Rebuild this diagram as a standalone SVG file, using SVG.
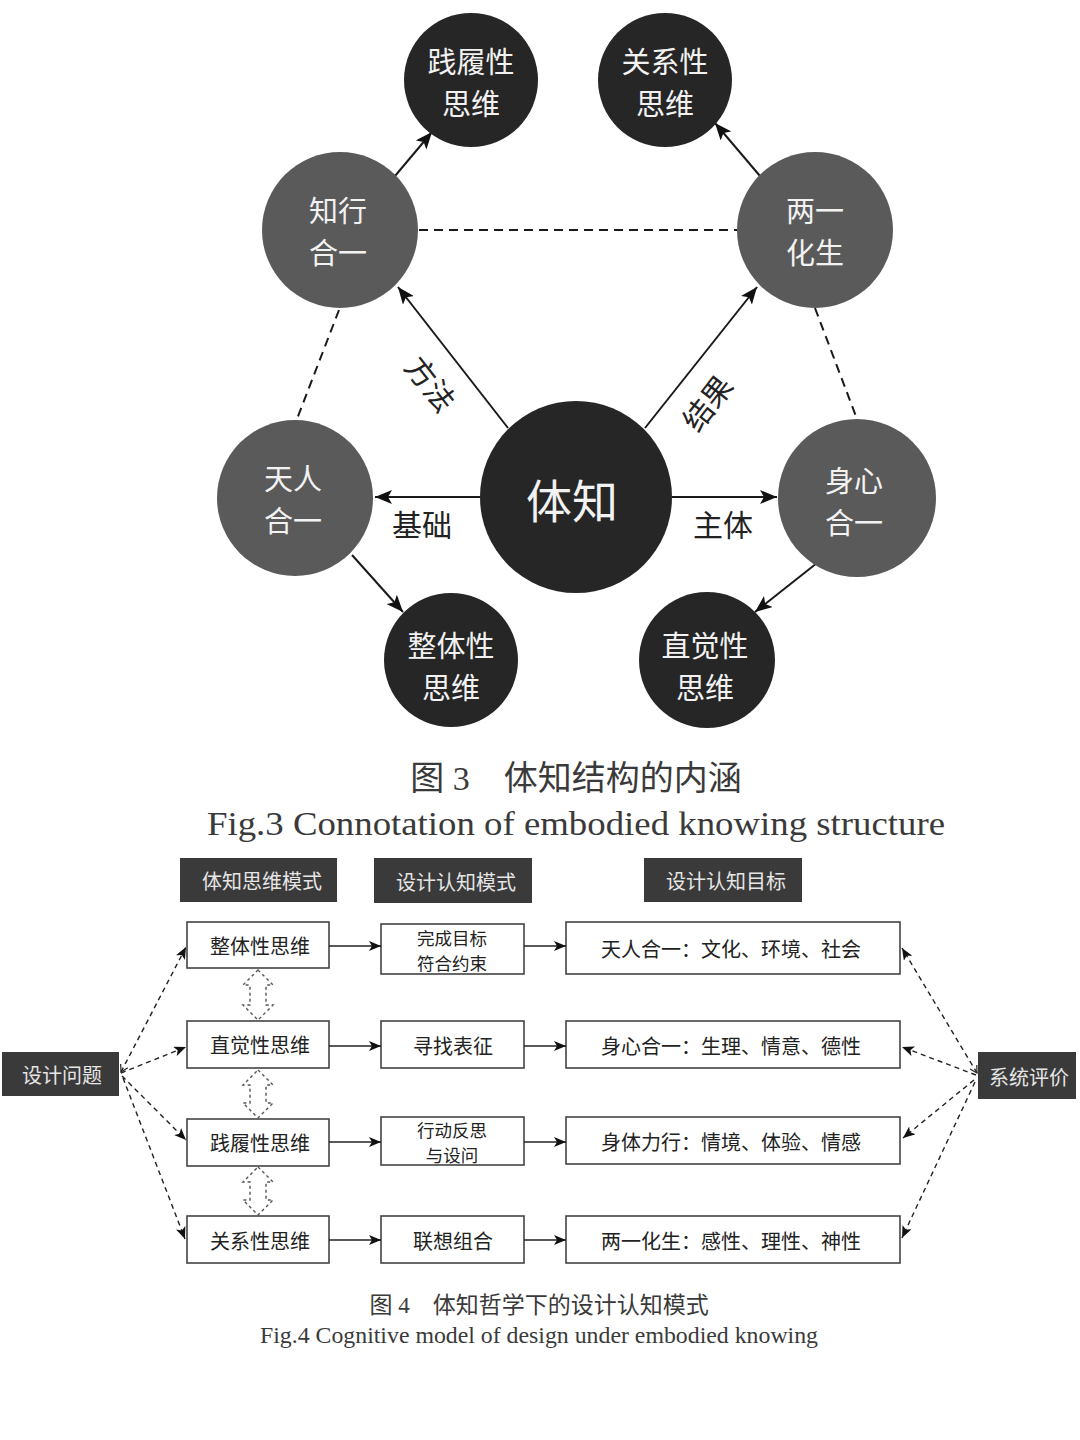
<svg xmlns="http://www.w3.org/2000/svg" width="1080" height="1440" viewBox="0 0 1080 1440">
<defs>
<style>
.dk{fill:#262626}
.gy{fill:#5a5a5a}
.ct{font-family:"Noto Sans CJK SC",sans-serif;fill:#f2f2f2;text-anchor:middle;dominant-baseline:central}
.lb{font-family:"Noto Sans CJK SC",sans-serif;fill:#222;text-anchor:middle;dominant-baseline:central;font-size:30px}
.ln{stroke:#1a1a1a;stroke-width:2;fill:none}
.dl{stroke:#1a1a1a;stroke-width:2;fill:none;stroke-dasharray:9 6}
.box{fill:#fff;stroke:#444;stroke-width:1.6}
.hd{fill:#3a3a3a}
.ht{font-family:"Noto Sans CJK SC",sans-serif;fill:#e6e6e6;text-anchor:middle;dominant-baseline:central;font-size:20px}
.bt{font-family:"Noto Sans CJK SC",sans-serif;fill:#222;text-anchor:middle;dominant-baseline:central;font-size:20px}
.b2{font-family:"Noto Sans CJK SC",sans-serif;fill:#222;text-anchor:middle;dominant-baseline:central;font-size:17.5px}
.sl{stroke:#222;stroke-width:1.4;fill:none}
.ds{stroke:#222;stroke-width:1.4;fill:none;stroke-dasharray:5 4}
.da{stroke:#555;stroke-width:1.4;fill:#fff;stroke-dasharray:3 3}
.cap{font-family:"Liberation Serif","Noto Sans CJK SC",serif;fill:#3a3a3a;text-anchor:middle}
</style>
<marker id="ah" markerUnits="userSpaceOnUse" markerWidth="18" markerHeight="14" refX="17" refY="7" orient="auto">
<path d="M0,0 L17,7 L0,14 L4,7 Z" fill="#111"/>
</marker>
<marker id="as" markerUnits="userSpaceOnUse" markerWidth="13" markerHeight="10" refX="12" refY="5" orient="auto">
<path d="M0,0 L12,5 L0,10 L3,5 Z" fill="#111"/>
</marker>
<marker id="ao" markerUnits="userSpaceOnUse" markerWidth="10" markerHeight="10" refX="1" refY="5" orient="auto">
<path d="M8,1 L1,5 L8,9" fill="none" stroke="#222" stroke-width="1.2"/>
</marker>
</defs>
<rect width="1080" height="1440" fill="#fff"/>

<!-- Figure 3 connectors -->
<g id="fig3-connectors">
<line class="dl" x1="419" y1="230" x2="737" y2="230"/>
<line class="dl" x1="339" y1="310" x2="297" y2="419"/>
<line class="dl" x1="815" y1="308" x2="857" y2="419"/>
<line class="ln" x1="395" y1="176" x2="432" y2="132" marker-end="url(#ah)"/>
<line class="ln" x1="760" y1="176" x2="715" y2="123" marker-end="url(#ah)"/>
<line class="ln" x1="508" y1="428" x2="398" y2="287" marker-end="url(#ah)"/>
<line class="ln" x1="645" y1="428" x2="757" y2="287" marker-end="url(#ah)"/>
<line class="ln" x1="480" y1="497" x2="375" y2="497" marker-end="url(#ah)"/>
<line class="ln" x1="672" y1="497" x2="777" y2="497" marker-end="url(#ah)"/>
<line class="ln" x1="352" y1="555" x2="403" y2="612" marker-end="url(#ah)"/>
<line class="ln" x1="817" y1="563" x2="755" y2="612" marker-end="url(#ah)"/>
<text class="lb" transform="translate(432,383) rotate(52)" font-size="31">方法</text>
<text class="lb" transform="translate(706,402) rotate(-52)" font-size="31">结果</text>
<text class="lb" x="422" y="523">基础</text>
<text class="lb" x="723" y="523">主体</text>
</g>

<g id="n-jianlv"><circle class="dk" cx="471" cy="80" r="67"/><text class="ct" font-size="29"><tspan x="471" y="60">践履性</tspan><tspan x="471" y="102">思维</tspan></text></g>
<g id="n-guanxi"><circle class="dk" cx="665" cy="80" r="67"/><text class="ct" font-size="29"><tspan x="665" y="60">关系性</tspan><tspan x="665" y="102">思维</tspan></text></g>
<g id="n-zhixing"><circle class="gy" cx="340" cy="230" r="78"/><text class="ct" font-size="29"><tspan x="338" y="209">知行</tspan><tspan x="338" y="251">合一</tspan></text></g>
<g id="n-liangyi"><circle class="gy" cx="815" cy="230" r="78"/><text class="ct" font-size="29"><tspan x="815" y="209">两一</tspan><tspan x="815" y="251">化生</tspan></text></g>
<g id="n-tianren"><circle class="gy" cx="295" cy="498" r="78"/><text class="ct" font-size="29"><tspan x="293" y="477">天人</tspan><tspan x="293" y="519">合一</tspan></text></g>
<g id="n-tizhi"><circle class="dk" cx="576" cy="497" r="96"/><text class="ct" x="572" y="498" font-size="46">体知</text></g>
<g id="n-shenxin"><circle class="gy" cx="857" cy="498" r="79"/><text class="ct" font-size="29"><tspan x="854" y="479">身心</tspan><tspan x="854" y="521">合一</tspan></text></g>
<g id="n-zhengti"><circle class="dk" cx="451" cy="660" r="67"/><text class="ct" font-size="29"><tspan x="451" y="644">整体性</tspan><tspan x="451" y="686">思维</tspan></text></g>
<g id="n-zhijue"><circle class="dk" cx="707" cy="660" r="68"/><text class="ct" font-size="29"><tspan x="705" y="644">直觉性</tspan><tspan x="705" y="686">思维</tspan></text></g>

<g id="cap3">
<text class="cap" x="576" y="790" font-size="34">图 3　体知结构的内涵</text>
<text class="cap" x="576" y="835" font-size="34" textLength="738" lengthAdjust="spacingAndGlyphs">Fig.3 Connotation of embodied knowing structure</text>
</g>

<!-- Figure 4 -->
<g id="h1"><rect class="hd" x="180" y="858" width="157" height="44"/><text class="ht" x="262" y="880">体知思维模式</text></g>
<g id="h2"><rect class="hd" x="374" y="858" width="158" height="45"/><text class="ht" x="456" y="881">设计认知模式</text></g>
<g id="h3"><rect class="hd" x="644" y="858" width="158" height="44"/><text class="ht" x="726" y="880">设计认知目标</text></g>

<g id="b-wenti"><rect class="hd" x="2" y="1052" width="117" height="44"/><text class="ht" x="62" y="1074">设计问题</text></g>
<g id="b-pingjia"><rect class="hd" x="978" y="1052" width="98" height="47"/><text class="ht" x="1029" y="1076">系统评价</text></g>

<g id="r1c1"><rect class="box" x="187" y="922" width="142" height="46"/><text class="bt" x="260" y="945">整体性思维</text></g>
<g id="r2c1"><rect class="box" x="187" y="1021" width="142" height="47"/><text class="bt" x="260" y="1044">直觉性思维</text></g>
<g id="r3c1"><rect class="box" x="187" y="1119" width="142" height="47"/><text class="bt" x="260" y="1142">践履性思维</text></g>
<g id="r4c1"><rect class="box" x="187" y="1216" width="142" height="47"/><text class="bt" x="260" y="1240">关系性思维</text></g>

<g id="r1c2"><rect class="box" x="381" y="924" width="143" height="50"/><text class="b2"><tspan x="452" y="936.5">完成目标</tspan><tspan x="452" y="962">符合约束</tspan></text></g>
<g id="r2c2"><rect class="box" x="381" y="1021" width="143" height="47"/><text class="bt" x="453" y="1045">寻找表征</text></g>
<g id="r3c2"><rect class="box" x="381" y="1117" width="143" height="48"/><text class="b2"><tspan x="452" y="1128.5">行动反思</tspan><tspan x="452" y="1154">与设问</tspan></text></g>
<g id="r4c2"><rect class="box" x="381" y="1216" width="143" height="47"/><text class="bt" x="453" y="1240">联想组合</text></g>

<g id="r1c3"><rect class="box" x="566" y="922" width="334" height="52"/><text class="bt" x="731" y="948">天人合一：文化、环境、社会</text></g>
<g id="r2c3"><rect class="box" x="566" y="1021" width="334" height="47"/><text class="bt" x="731" y="1045">身心合一：生理、情意、德性</text></g>
<g id="r3c3"><rect class="box" x="566" y="1117" width="334" height="47"/><text class="bt" x="731" y="1141">身体力行：情境、体验、情感</text></g>
<g id="r4c3"><rect class="box" x="566" y="1216" width="334" height="47"/><text class="bt" x="731" y="1240">两一化生：感性、理性、神性</text></g>

<g id="fig4-connectors">
<line class="sl" x1="329" y1="946" x2="381" y2="946" marker-end="url(#as)"/>
<line class="sl" x1="329" y1="1046" x2="381" y2="1046" marker-end="url(#as)"/>
<line class="sl" x1="329" y1="1142" x2="381" y2="1142" marker-end="url(#as)"/>
<line class="sl" x1="329" y1="1240" x2="381" y2="1240" marker-end="url(#as)"/>
<line class="sl" x1="524" y1="946" x2="566" y2="946" marker-end="url(#as)"/>
<line class="sl" x1="524" y1="1046" x2="566" y2="1046" marker-end="url(#as)"/>
<line class="sl" x1="524" y1="1142" x2="566" y2="1142" marker-end="url(#as)"/>
<line class="sl" x1="524" y1="1240" x2="566" y2="1240" marker-end="url(#as)"/>

<line class="ds" x1="121" y1="1072" x2="186" y2="947" marker-start="url(#ao)" marker-end="url(#as)"/>
<line class="ds" x1="121" y1="1073" x2="186" y2="1047" marker-end="url(#as)"/>
<line class="ds" x1="122" y1="1076" x2="186" y2="1140" marker-end="url(#as)"/>
<line class="ds" x1="123" y1="1078" x2="185" y2="1239" marker-end="url(#as)"/>

<line class="ds" x1="977" y1="1073" x2="902" y2="948" marker-start="url(#ao)" marker-end="url(#as)"/>
<line class="ds" x1="976" y1="1075" x2="902" y2="1047" marker-end="url(#as)"/>
<line class="ds" x1="974" y1="1080" x2="903" y2="1138" marker-end="url(#as)"/>
<line class="ds" x1="975" y1="1082" x2="902" y2="1238" marker-end="url(#as)"/>

<path class="da" d="M258,970 L273,985 L266,985 L266,1005 L273,1005 L258,1020 L243,1005 L250,1005 L250,985 L243,985 Z"/>
<path class="da" d="M258,1070 L273,1085 L266,1085 L266,1103 L273,1103 L258,1118 L243,1103 L250,1103 L250,1085 L243,1085 Z"/>
<path class="da" d="M258,1167 L273,1182 L266,1182 L266,1200 L273,1200 L258,1215 L243,1200 L250,1200 L250,1182 L243,1182 Z"/>
</g>

<g id="cap4">
<text class="cap" x="539" y="1313" font-size="23">图 4　体知哲学下的设计认知模式</text>
<text class="cap" x="539" y="1343" font-size="23" textLength="558" lengthAdjust="spacingAndGlyphs">Fig.4 Cognitive model of design under embodied knowing</text>
</g>
</svg>
